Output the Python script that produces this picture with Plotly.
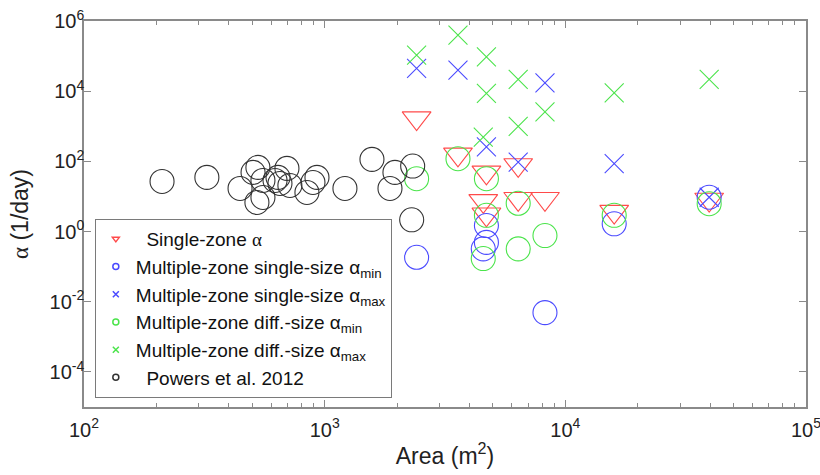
import plotly.graph_objects as go

# ---- data (Area in m^2, alpha in 1/day) ----
single_zone_x = [2410, 3580, 4700, 6370, 4560, 4700, 6370, 8230, 15960, 39600]
single_zone_y = [1710, 158, 48.5, 79, 7.5, 3.1, 8.6, 8.6, 3.7, 8.2]

ss_min_x = [2410, 4700, 4700, 4560, 8230, 15960, 39600]
ss_min_y = [0.185, 1.48, 0.49, 0.32, 0.0049, 1.66, 9.5]

ss_max_x = [2410, 3580, 8230, 4700, 6370, 15960, 39600]
ss_max_y = [44600, 39800, 17300, 257, 95, 86, 9.5]

ds_min_x = [2410, 3580, 4700, 6370, 4700, 8230, 6370, 4560, 15960, 39600]
ds_min_y = [32, 119, 32, 6.4, 2.9, 0.77, 0.32, 0.17, 2.9, 6.2]

ds_max_x = [2410, 3580, 4700, 4700, 6370, 6370, 8230, 4560, 15960, 39600]
ds_max_y = [107000, 398000, 95500, 8600, 21600, 1000, 2560, 494, 8940, 21600]

powers_x = [211, 324, 445, 504, 528, 523, 554, 554, 622, 640, 652, 697, 717,
            844, 929, 894, 1214, 1572, 1868, 1959, 2321, 2299]
powers_y = [26.8, 34.9, 16.9, 48.5, 67.4, 6.75, 9.36, 28.6, 28.6, 34.9, 23.5, 63,
            20.6, 13, 34.9, 25.1, 16.9, 114, 16.9, 48.5, 73.5, 2.16]

x_tickvals = [1e2, 1e3, 1e4, 1e5]
x_ticktext = ["10<sup>2</sup>", "10<sup>3</sup>", "10<sup>4</sup>", "10<sup>5</sup>"]
y_tickvals = [1e-4, 1e-2, 1e0, 1e2, 1e4, 1e6]
y_ticktext = ["10<sup>-4</sup>", "10<sup>-2</sup>", "10<sup>0</sup>",
              "10<sup>2</sup>", "10<sup>4</sup>", "10<sup>6</sup>"]

RED = "#ff4a4a"
BLUE = "#4a4aff"
GREEN = "#4be44b"
BLACK = "#333333"
AX = "#8a8a8a"
FONT = "Liberation Sans, Arial, sans-serif"
SERIF_A = '<span style="font-family:Liberation Serif, serif">α</span>'

series = [
    ("  Single-zone " + SERIF_A, single_zone_x, single_zone_y, "triangle-down-open", RED, 25),
    ("Multiple-zone single-size α<sub>min</sub>", ss_min_x, ss_min_y, "circle-open", BLUE, 24),
    ("Multiple-zone single-size α<sub>max</sub>", ss_max_x, ss_max_y, "x-thin-open", BLUE, 19),
    ("Multiple-zone diff.-size α<sub>min</sub>", ds_min_x, ds_min_y, "circle-open", GREEN, 24),
    ("Multiple-zone diff.-size α<sub>max</sub>", ds_max_x, ds_max_y, "x-thin-open", GREEN, 19),
    ("  Powers et al. 2012", powers_x, powers_y, "circle-open", BLACK, 24),
]

fig = go.Figure()
for name, xs, ys, sym, col, sz in series:
    fig.add_trace(go.Scatter(
        x=xs, y=ys, mode="markers", name=name, showlegend=False,
        marker=dict(symbol=sym, size=sz, color=col, line=dict(color=col, width=1.1)),
    ))
# small legend markers
for name, xs, ys, sym, col, sz in series:
    fig.add_trace(go.Scatter(
        x=[None], y=[None], mode="markers", name=name, showlegend=True,
        marker=dict(symbol=sym, size=6, color=col, line=dict(color=col, width=1.5)),
    ))

fig.update_layout(
    width=820, height=475,
    margin=dict(l=84, r=14, t=21, b=68, autoexpand=False),
    paper_bgcolor="white", plot_bgcolor="white",
    font=dict(family=FONT, size=20, color="#222"),
    showlegend=True,
    legend=dict(
        x=0.015, y=0.487, xanchor="left", yanchor="top",
        bgcolor="white", bordercolor="#7a7a7a", borderwidth=1,
        font=dict(family=FONT, size=19, color="#111"),
        itemsizing="trace",
    ),
    xaxis=dict(
        type="log", range=[2, 5], automargin=False,
        tickvals=x_tickvals, ticktext=x_ticktext,
        ticks="inside", ticklen=7, tickcolor=AX, tickwidth=1,
        minor=dict(ticks="inside", ticklen=4, tickcolor=AX, dtick="D1", showgrid=False),
        showline=True, linecolor=AX, linewidth=1.5, mirror="ticks",
        showgrid=False, zeroline=False,
        ticklabeloverflow="allow", ticklabelstandoff=4,
        tickfont=dict(size=20, color="#222"),
        title=dict(text="Area (m<sup>2</sup>)", font=dict(size=23, color="#222"), standoff=8),
    ),
    yaxis=dict(
        type="log", range=[-5, 6], automargin=False,
        tickvals=y_tickvals, ticktext=y_ticktext,
        ticks="inside", ticklen=7, tickcolor=AX, tickwidth=1,
        showline=True, linecolor=AX, linewidth=1.5, mirror="ticks",
        showgrid=False, zeroline=False,
        ticklabeloverflow="allow", ticklabelstandoff=-6,
        tickfont=dict(size=20, color="#222"),
        title=dict(text=SERIF_A + " (1/day)", font=dict(size=23, color="#222"), standoff=14),
    ),
)

fig.write_html("out.html")
